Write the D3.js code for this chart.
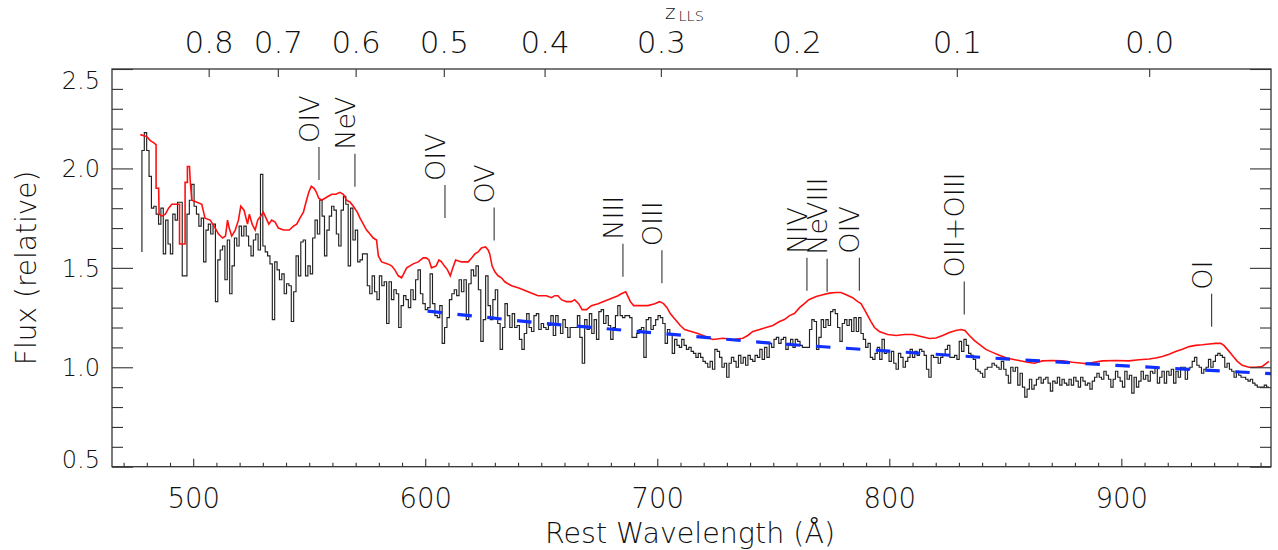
<!DOCTYPE html>
<html><head><meta charset="utf-8">
<script src="https://cdn.jsdelivr.net/npm/d3@7"></script>
<style>
body{margin:0;background:#fff}
text{font-family:"DejaVu Sans","Liberation Sans",sans-serif;font-weight:200;fill:#111}
</style></head><body>
<svg id="c" width="1278" height="550"></svg>
<script>
// ---------------- data ----------------
const xDomain = [465, 964.5];
const yDomain = [0.5, 2.5];
const xMajorTicks = [500, 600, 700, 800, 900];
const yMajorTicks = [0.5, 1.0, 1.5, 2.0, 2.5];
const zTicks = [0.0, 0.1, 0.2, 0.3, 0.4, 0.5, 0.6, 0.7, 0.8];
const lymanLimit = 912;

// black observed spectrum (histogram), five wavelength segments
const blackEdgeFlux = 1.58;
const segRangeA = [477.9, 571.9];
const fluxA = [2.09,2.18,2.09,1.96,1.80,1.81,1.77,1.72,1.80,1.57,1.74,1.62,1.57,1.77,1.74,1.83,1.83,1.46,1.46,1.77,
1.84,1.92,1.81,1.77,1.71,1.75,1.53,1.69,1.72,1.67,1.72,1.33,1.54,1.59,1.61,1.44,1.64,1.37,1.51,1.65,
1.61,1.71,1.66,1.71,1.66,1.61,1.56,1.64,1.67,1.59,1.97,1.61,1.58,1.56,1.52,1.24,1.53,1.49,1.44,1.47,
1.37,1.42,1.41,1.23,1.38,1.56,1.46,1.63,1.64,1.46,1.51,1.47,1.65,1.74,1.67,1.84,1.76,1.56,1.69,1.76,
1.81,1.79,1.67,1.61,1.79,1.86,1.82,1.51,1.80,1.64,1.69,1.53];
const segRangeB = [571.9, 668.7];
const fluxB = [1.54,1.57,1.57,1.41,1.37,1.46,1.38,1.34,1.46,1.41,1.43,1.22,1.43,1.34,1.39,1.37,1.20,1.31,1.36,1.34,
1.30,1.39,1.34,1.44,1.49,1.37,1.32,1.29,1.30,1.47,1.32,1.26,1.25,1.31,1.12,1.20,1.25,1.34,1.37,1.39,
1.36,1.44,1.38,1.44,1.24,1.42,1.49,1.46,1.51,1.39,1.13,1.24,1.46,1.31,1.24,1.34,1.39,1.22,1.09,1.20,
1.32,1.26,1.20,1.27,1.20,1.21,1.14,1.09,1.17,1.27,1.20,1.18,1.26,1.27,1.19,1.22,1.20,1.19,1.21,1.26,
1.16,1.26,1.21,1.17,1.24,1.20,1.15,1.20,1.20,1.20,1.26,1.15,1.02];
const segRangeC = [668.7, 765.6];
const fluxC = [1.24,1.19,1.27,1.17,1.24,1.14,1.28,1.29,1.22,1.26,1.21,1.14,1.20,1.26,1.31,1.26,1.25,1.26,1.26,1.25,
1.15,1.15,1.17,1.19,1.20,1.05,1.24,1.25,1.19,1.21,1.24,1.26,1.25,1.22,1.12,1.19,1.17,1.07,1.14,1.11,
1.10,1.14,1.11,1.09,1.10,1.08,1.07,1.05,1.07,1.05,1.03,1.02,1.00,1.03,0.99,1.09,1.08,1.05,1.00,1.02,
0.95,1.02,1.05,1.03,1.00,1.06,1.02,1.05,1.01,1.06,1.04,1.03,1.06,1.05,1.09,1.04,1.10,1.05,1.12,1.10,
1.14,1.15,1.12,1.14,1.15,1.09,1.12,1.14,1.10,1.14,1.13,1.11,1.10,1.10,1.10];
const segRangeD = [765.6, 862.4];
const fluxD = [1.19,1.24,1.23,1.09,1.15,1.24,1.20,1.24,1.21,1.28,1.29,1.27,1.20,1.13,1.22,1.24,1.21,1.24,1.18,1.25,
1.18,1.25,1.17,1.14,1.10,1.12,1.05,1.04,1.07,1.10,1.04,1.14,1.07,1.08,1.03,1.08,1.02,0.99,1.07,1.05,
1.00,1.03,1.05,1.09,1.05,1.08,1.06,1.09,1.08,1.06,0.99,0.95,1.06,1.05,1.05,1.02,1.05,1.06,1.09,1.11,
1.05,1.05,1.06,1.04,1.13,1.08,1.14,1.11,1.07,1.06,1.04,0.99,0.98,0.97,0.95,0.99,1.00,1.00,1.02,1.01,
1.00,0.99,1.03,0.99,0.96,0.92,1.00,0.98,1.00,0.91,0.97,0.90,0.85,0.89,0.94,0.89];
const segRangeE = [862.4, 963.6];
const fluxE = [0.91,0.94,0.95,0.92,0.94,0.95,0.92,0.88,0.93,0.92,0.95,0.91,0.94,0.92,0.91,0.94,0.91,0.95,0.93,0.90,
0.95,0.93,0.91,0.92,0.89,0.93,0.95,0.97,0.95,0.94,0.98,0.96,0.94,0.90,0.94,0.98,0.95,0.93,0.90,0.98,
0.94,0.96,0.87,0.95,0.90,0.93,0.98,0.94,0.96,0.93,0.98,0.97,1.00,0.92,0.95,0.98,0.92,0.98,0.96,0.99,
0.92,0.98,0.95,1.00,1.00,0.94,0.99,1.00,1.03,1.05,1.01,1.00,0.97,0.99,1.00,1.04,1.00,1.03,1.06,1.07,
1.06,1.05,1.00,1.02,0.99,0.98,0.95,0.98,0.96,0.95,0.95,0.94,0.93,0.94,0.92,0.91,0.90,0.90,0.90,0.91,0.90];

// red composite spectrum
const redLam = [477.2,480.0,481.5,482.9,484.0,484.0,485.1,485.3,486.5,488.0,489.4,490.8,492.2,494.1,494.1,496.5,496.5,497.5,497.5,498.4,
498.7,499.4,501.6,503.7,505.1,507.3,509.0,510.9,512.7,513.9,514.8,515.5,516.6,518.1,519.5,520.5,521.9,523.4,524.2,525.4,
526.7,527.8,529.1,530.2,531.4,532.6,533.8,535.3,536.7,538.9,541.4,543.2,544.6,546.0,547.5,548.6,549.8,550.9,552.1,553.1,
554.1,555.4,556.8,558.2,559.7,561.5,563.2,564.7,566.1,567.6,569.0,570.7,
571.9,573.3,574.7,576.2,577.6,579.0,579.8,581.2,583.8,585.5,586.9,588.4,589.8,590.7,592.0,594.8,597.0,599.1,600.4,601.6,
602.7,604.7,605.9,607.0,608.2,609.6,610.8,611.9,613.1,615.6,618.5,620.0,621.4,622.8,624.2,626.0,627.1,627.8,628.8,630.0,
631.4,632.8,634.3,635.7,637.2,640.0,642.2,644.3,646.5,648.6,652.2,654.4,655.8,657.2,658.7,660.8,663.0,664.4,666.1,667.6,
669.5,671.6,674.5,676.6,678.8,680.9,683.1,684.5,686.4,687.2,688.4,689.8,693.1,696.0,698.9,701.0,702.7,704.2,705.6,707.0,
708.5,709.9,711.8,714.6,717.5,719.7,721.8,724.0,728.3,732.6,736.9,739.0,741.2,744.1,746.9,749.8,752.7,754.8,757.0,759.1,
761.3,763.4,765.3,
768.5,771.3,774.2,777.1,779.2,781.4,784.2,786.4,787.8,789.3,790.7,792.1,793.6,795.7,799.3,803.0,806.5,810.1,813.7,817.3,
820.1,823.0,825.9,828.7,830.9,832.6,834.5,836.6,838.8,841.6,844.5,847.4,850.9,855.3,859.6,862.4,
866.0,870.3,874.6,879.0,883.3,885.4,887.6,891.9,897.6,903.3,907.6,912.0,914.8,917.7,920.6,923.4,926.3,929.2,932.0,934.9,
937.8,940.6,942.8,944.2,945.7,947.1,948.5,950.0,952.1,955.0,957.9,960.7,962.5,963.6];
const redFlux = [2.17,2.16,2.14,2.13,2.12,1.90,1.90,1.77,1.76,1.77,1.80,1.82,1.82,1.82,1.62,1.62,1.93,1.93,2.01,2.01,
1.94,1.84,1.83,1.82,1.75,1.74,1.71,1.67,1.65,1.66,1.74,1.70,1.66,1.69,1.74,1.81,1.79,1.72,1.77,1.72,
1.69,1.74,1.76,1.78,1.75,1.72,1.74,1.73,1.70,1.69,1.69,1.71,1.72,1.75,1.78,1.83,1.88,1.91,1.90,1.88,
1.85,1.84,1.85,1.86,1.87,1.87,1.88,1.87,1.84,1.83,1.81,1.78,
1.75,1.72,1.69,1.67,1.65,1.64,1.56,1.53,1.52,1.51,1.49,1.46,1.45,1.47,1.50,1.52,1.53,1.55,1.55,1.54,
1.50,1.51,1.54,1.53,1.51,1.49,1.46,1.50,1.54,1.53,1.53,1.55,1.57,1.58,1.60,1.605,1.59,1.57,1.51,1.48,
1.46,1.45,1.43,1.42,1.41,1.40,1.39,1.38,1.37,1.36,1.36,1.35,1.36,1.36,1.34,1.33,1.33,1.34,1.32,1.29,
1.29,1.31,1.32,1.33,1.34,1.35,1.36,1.37,1.38,1.36,1.33,1.31,1.31,1.31,1.32,1.33,1.32,1.30,1.27,1.25,
1.23,1.21,1.19,1.18,1.17,1.16,1.15,1.14,1.146,1.14,1.146,1.16,1.18,1.19,1.20,1.21,1.23,1.24,1.26,1.27,
1.30,1.32,1.34,
1.356,1.365,1.373,1.376,1.376,1.365,1.35,1.33,1.32,1.29,1.26,1.23,1.20,1.18,1.165,1.16,1.165,1.165,1.155,1.145,
1.147,1.16,1.175,1.185,1.19,1.185,1.16,1.135,1.115,1.09,1.075,1.06,1.045,1.035,1.025,1.02,
1.032,1.034,1.032,1.025,1.02,1.017,1.024,1.032,1.034,1.032,1.038,1.042,1.047,1.054,1.066,1.079,1.091,1.104,1.11,1.113,
1.117,1.12,1.121,1.11,1.09,1.07,1.05,1.03,1.01,1.00,1.00,1.004,1.02,1.03];

// blue dashed continuum
const blueLam  = [601, 650, 700, 750, 800, 850, 900, 964.5];
const blueFlux = [1.282, 1.222, 1.172, 1.120, 1.081, 1.042, 1.008, 0.968];

// emission line identifications
const lineNames  = ["OIV","NeV","OIV","OV","NIII","OIII","NIV","NeVIII","OIV","OII+OIII","OI"];
const lineWaves  = [554.2, 569.7, 608.5, 629.7, 685.2, 702.0, 764.5, 773.2, 787.1, 832.3, 938.9];
const lineLevels = [1.942, 1.908, 1.751, 1.637, 1.455, 1.422, 1.385, 1.380, 1.385, 1.266, 1.204];

// ---------------- drawing ----------------
const M = {l:112, r:1271, t:69, b:466.7};
const svg = d3.select('#c');
const x = d3.scaleLinear().domain(xDomain).range([M.l, M.r]);
const y = d3.scaleLinear().domain(yDomain).range([M.b, M.t]);

svg.append('clipPath').attr('id','clip').append('rect')
  .attr('x',M.l).attr('y',M.t).attr('width',M.r-M.l).attr('height',M.b-M.t);
const plot = svg.append('g').attr('clip-path','url(#clip)');
const line = d3.line().x(d=>x(d[0])).y(d=>y(d[1]));

// black histogram
const segs = [[segRangeA,fluxA],[segRangeB,fluxB],[segRangeC,fluxC],[segRangeD,fluxD],[segRangeE,fluxE]];
const blackPts = [[segRangeA[0], blackEdgeFlux]];
segs.forEach(([r,v])=>{
  const w = (r[1]-r[0])/v.length;
  v.forEach((f,i)=>{ blackPts.push([r[0]+i*w, f]); blackPts.push([r[0]+(i+1)*w, f]); });
});
plot.append('path').attr('d', line(blackPts)).attr('fill','none')
  .attr('stroke','#222').attr('stroke-width',1.15);

// red
plot.append('path').attr('d', line(redLam.map((l,i)=>[l,redFlux[i]]))).attr('fill','none')
  .attr('stroke','#ff1010').attr('stroke-width',1.6);

// blue dashed
plot.append('path').attr('d', line(blueLam.map((l,i)=>[l,blueFlux[i]]))).attr('fill','none')
  .attr('stroke','#1030ff').attr('stroke-width',3.2).attr('stroke-dasharray','14.5,15.5');

// axes
function style(g){ g.select('.domain').remove(); g.selectAll('line').attr('stroke','#333').attr('stroke-width',1.1); }
const xMinor = d3.range(470, 961, 10).filter(v=>v%100!==0);
svg.append('g').attr('transform',`translate(0,${M.b})`)
  .call(d3.axisBottom(x).tickValues(xMinor).tickSize(-4).tickFormat('')).call(style);
const gb = svg.append('g').attr('transform',`translate(0,${M.b})`)
  .call(d3.axisBottom(x).tickValues(xMajorTicks).tickSize(-8).tickFormat(d3.format('d'))).call(style);
gb.selectAll('text').attr('y',41.6).attr('dy',0).style('font-size','27.5px').attr('fill','#111');

const gt = svg.append('g').attr('transform',`translate(0,${M.t})`)
  .call(d3.axisTop(x).tickValues(zTicks.map(z=>lymanLimit/(1+z))).tickSize(-8)
    .tickFormat((d,i)=>zTicks[i].toFixed(1))).call(style);
gt.selectAll('text').attr('y',-15.7).attr('dy',0).style('font-size','31px').attr('fill','#111');

const yMinor = d3.range(6,25).map(v=>v/10).filter(v=>Math.abs(v*2-Math.round(v*2))>1e-6);
svg.append('g').attr('transform',`translate(${M.l},0)`)
  .call(d3.axisLeft(y).tickValues(yMinor).tickSize(-11).tickFormat('')).call(style);
const gl = svg.append('g').attr('transform',`translate(${M.l},0)`)
  .call(d3.axisLeft(y).tickValues(yMajorTicks).tickSize(-21).tickFormat(d3.format('.1f'))).call(style);
gl.selectAll('text').attr('x',-12).attr('dy',0).style('font-size','24px').attr('fill','#111')
  .attr('y', d=>{ const b = y(d)+8.5; return Math.max(M.t+19.3, Math.min(M.b+0.6, b)) - y(d); });
svg.append('g').attr('transform',`translate(${M.r},0)`)
  .call(d3.axisRight(y).tickValues(yMinor).tickSize(-11).tickFormat('')).call(style);
svg.append('g').attr('transform',`translate(${M.r},0)`)
  .call(d3.axisRight(y).tickValues(yMajorTicks).tickSize(-21).tickFormat('')).call(style);

// frame
svg.append('rect').attr('x',M.l).attr('y',M.t).attr('width',M.r-M.l).attr('height',M.b-M.t)
  .attr('fill','none').attr('stroke','#333').attr('stroke-width',1.3);

// emission line labels
const lab = svg.append('g');
lineNames.forEach((n,i)=>{
  const lx = x(lineWaves[i]), yb = y(lineLevels[i]), yt = yb-33;
  lab.append('line').attr('x1',lx).attr('x2',lx).attr('y1',yb).attr('y2',yt)
    .attr('stroke','#444').attr('stroke-width',1.2);
  lab.append('text').attr('transform',`translate(${lx},${yt-4}) rotate(-90)`)
    .style('font-size','27px').text(n);
});

// titles
svg.append('text').attr('x',690).attr('y',543).attr('text-anchor','middle')
  .style('font-size','28.5px').text('Rest Wavelength (Å)');
svg.append('text').attr('transform',`translate(36,${(M.t+M.b)/2}) rotate(-90)`).attr('text-anchor','middle')
  .style('font-size','28px').text('Flux (relative)');
const zt = svg.append('text').attr('x',665).attr('y',19).style('font-size','20px');
zt.append('tspan').text('z');
zt.append('tspan').attr('dy',2).attr('dx',3).style('font-size','14.5px').text('LLS');
</script></body></html>
